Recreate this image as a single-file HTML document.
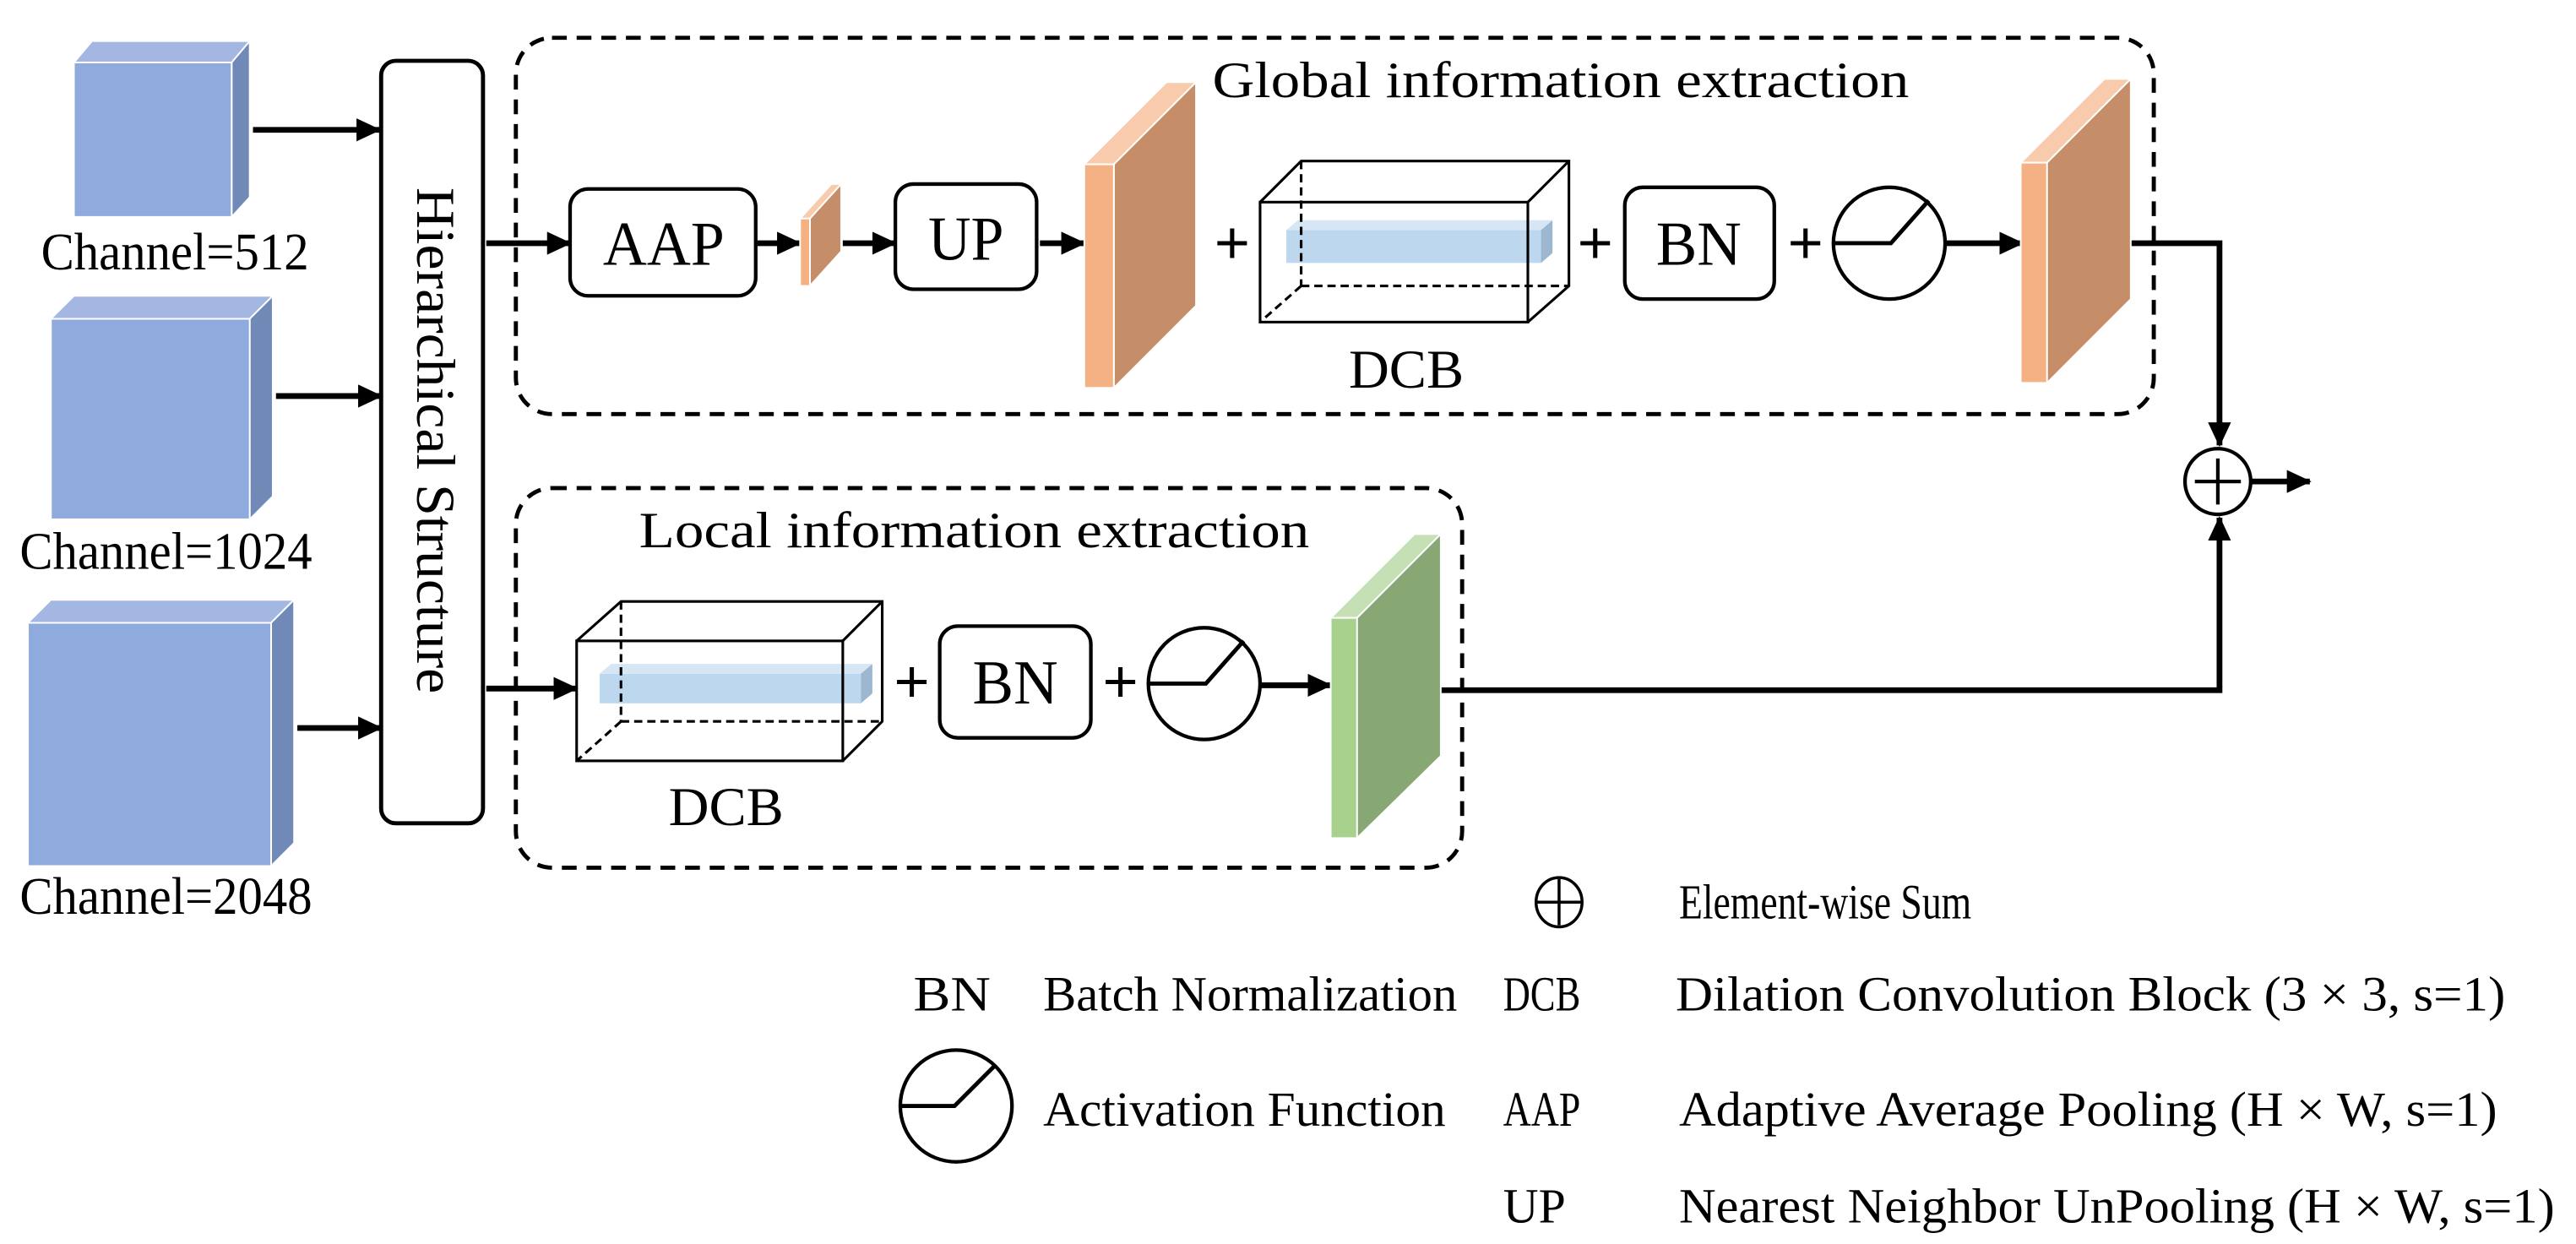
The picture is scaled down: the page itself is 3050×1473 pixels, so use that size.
<!DOCTYPE html>
<html><head><meta charset="utf-8"><style>
html,body{margin:0;padding:0;background:#fff;}
svg{display:block;}
text{font-family:"Liberation Serif","Times New Roman","DejaVu Serif",serif;fill:#000;}
</style></head><body>
<svg width="3050" height="1473" viewBox="0 0 1568 757" preserveAspectRatio="none" xmlns="http://www.w3.org/2000/svg">
<defs>
<marker id="ah" markerUnits="userSpaceOnUse" markerWidth="16" markerHeight="16" refX="14" refY="7" orient="auto">
<path d="M0,0 L15,7 L0,14 Z" fill="#000"/>
</marker>
</defs>
<g stroke="#000" stroke-width="3.5" fill="none">
<line x1="154" y1="79" x2="231" y2="79" marker-end="url(#ah)"/>
<line x1="168" y1="241" x2="232" y2="241" marker-end="url(#ah)"/>
<line x1="181" y1="443" x2="232" y2="443" marker-end="url(#ah)"/>
<line x1="296" y1="148" x2="347" y2="148" marker-end="url(#ah)"/>
<line x1="296" y1="419" x2="351" y2="419" marker-end="url(#ah)"/>
<line x1="461" y1="148" x2="487" y2="148" marker-end="url(#ah)"/>
<line x1="513" y1="148" x2="545" y2="148" marker-end="url(#ah)"/>
<line x1="633" y1="148" x2="660" y2="148" marker-end="url(#ah)"/>
<line x1="1184" y1="148" x2="1231" y2="148" marker-end="url(#ah)"/>
<line x1="767" y1="417" x2="810" y2="417" marker-end="url(#ah)"/>
<polyline points="1297,148 1351,148 1351,271" marker-end="url(#ah)"/>
<polyline points="876,420 1351,420 1351,315" marker-end="url(#ah)"/>
<line x1="1370" y1="293" x2="1406" y2="293" marker-end="url(#ah)"/>
</g>
<g stroke="#fff" stroke-width="1">
<polygon points="45,38 56,25 152,25 141,38" fill="#A4B6E2"/>
<polygon points="141,38 152,25 152,120 141,132" fill="#7189B7"/>
<rect x="45" y="38" width="96" height="94" fill="#8FAADC"/>
<polygon points="31,194 45,180 166,180 152,194" fill="#A4B6E2"/>
<polygon points="152,194 166,180 166,302 152,316" fill="#7189B7"/>
<rect x="31" y="194" width="121" height="122" fill="#8FAADC"/>
<polygon points="17,379 31,365 179,365 165,379" fill="#A4B6E2"/>
<polygon points="165,379 179,365 179,513 165,527" fill="#7189B7"/>
<rect x="17" y="379" width="148" height="148" fill="#8FAADC"/>
</g>
<text x="25" y="164" font-size="32" textLength="163" lengthAdjust="spacingAndGlyphs">Channel=512</text>
<text x="12" y="346" font-size="32" textLength="178" lengthAdjust="spacingAndGlyphs">Channel=1024</text>
<text x="12" y="556" font-size="32" textLength="178" lengthAdjust="spacingAndGlyphs">Channel=2048</text>
<rect x="232" y="37" width="62" height="464" rx="9" fill="none" stroke="#000" stroke-width="2.5"/>
<text transform="translate(254,114) rotate(90)" font-size="33" textLength="308" lengthAdjust="spacingAndGlyphs">Hierarchical Structure</text>
<rect x="314" y="23" width="997" height="229" rx="22" fill="none" stroke="#000" stroke-width="2.5" stroke-dasharray="9,6"/>
<rect x="314" y="297" width="576" height="231" rx="22" fill="none" stroke="#000" stroke-width="2.5" stroke-dasharray="9,6"/>
<text x="738" y="59" font-size="31" textLength="424" lengthAdjust="spacingAndGlyphs">Global  information extraction</text>
<text x="389" y="333" font-size="31" textLength="408" lengthAdjust="spacingAndGlyphs">Local  information extraction</text>
<g fill="#fff" stroke="#000" stroke-width="2.2">
<rect x="347" y="115" width="113" height="65" rx="11"/>
<rect x="545" y="112" width="86" height="64" rx="11"/>
<rect x="989" y="114" width="91" height="68" rx="11"/>
<rect x="572" y="381" width="92" height="68" rx="11"/>
</g>
<text x="404" y="161" font-size="38" text-anchor="middle" textLength="74" lengthAdjust="spacingAndGlyphs">AAP</text>
<text x="588" y="158" font-size="38" text-anchor="middle" textLength="46" lengthAdjust="spacingAndGlyphs">UP</text>
<text x="1034" y="161" font-size="38" text-anchor="middle" textLength="52" lengthAdjust="spacingAndGlyphs">BN</text>
<text x="618" y="428" font-size="38" text-anchor="middle" textLength="52" lengthAdjust="spacingAndGlyphs">BN</text>
<g stroke="#fff" stroke-width="1">
<polygon points="487,133 506,112 512,112 493,133" fill="#F8CBAD"/>
<polygon points="493,133 512,112 512,153 493,174" fill="#C58E68"/>
<rect x="487" y="133" width="6" height="41" fill="#F4B183"/>
<polygon points="660,100 710,50 728,50 678,100" fill="#F8CBAD"/>
<polygon points="678,100 728,50 728,186 678,236" fill="#C58E68"/>
<rect x="660" y="100" width="18" height="136" fill="#F4B183"/>
<polygon points="1230,99 1281,48 1297,48 1246,99" fill="#F8CBAD"/>
<polygon points="1246,99 1297,48 1297,182 1246,233" fill="#C58E68"/>
<rect x="1230" y="99" width="16" height="134" fill="#F4B183"/>
<polygon points="810,376 861,325 877,325 826,376" fill="#C5E0B4"/>
<polygon points="826,376 877,325 877,460 826,510" fill="#87A874"/>
<rect x="810" y="376" width="16" height="134" fill="#A9D18E"/>
</g>
<g>
<rect x="783" y="140" width="155" height="20" fill="#BDD7EE"/>
<polygon points="938,140 945,134 945,154 938,160" fill="#9DB7D0"/>
<polygon points="783,140 790,134 945,134 938,140" fill="#D6E6F5"/>
<g fill="none" stroke="#000" stroke-width="1.6">
<rect x="767" y="123" width="163" height="73"/>
<polyline points="767,123 792,98 955,98 955,174 930,196"/>
<line x1="930" y1="123" x2="955" y2="98"/>
<g stroke-dasharray="5,3"><line x1="792" y1="98" x2="792" y2="174"/><line x1="792" y1="174" x2="955" y2="174"/><line x1="792" y1="174" x2="767" y2="196"/></g>
</g>
</g>
<g>
<rect x="365" y="410" width="159" height="18" fill="#BDD7EE"/>
<polygon points="524,410 531,404 531,422 524,428" fill="#9DB7D0"/>
<polygon points="365,410 372,404 531,404 524,410" fill="#D6E6F5"/>
<g fill="none" stroke="#000" stroke-width="1.6">
<rect x="351" y="390" width="162" height="73"/>
<polyline points="351,390 378,366 537,366 537,439 513,463"/>
<line x1="513" y1="390" x2="537" y2="366"/>
<g stroke-dasharray="5,3"><line x1="378" y1="366" x2="378" y2="439"/><line x1="378" y1="439" x2="537" y2="439"/><line x1="378" y1="439" x2="351" y2="463"/></g>
</g>
</g>
<text x="821" y="236" font-size="33" textLength="70" lengthAdjust="spacingAndGlyphs">DCB</text>
<text x="407" y="502" font-size="33" textLength="70" lengthAdjust="spacingAndGlyphs">DCB</text>
<g stroke="#000" stroke-width="2.6" fill="none">
<path d="M741,148 H759 M750,139 V157"/>
<path d="M962,148 H980 M971,139 V157"/>
<path d="M1090,148 H1108 M1099,139 V157"/>
<path d="M546,415 H564 M555,406 V424"/>
<path d="M673,415 H691 M682,406 V424"/>
</g>
<g fill="#fff" stroke="#000" stroke-width="2.2">
<circle cx="1150" cy="148" r="34"/>
<circle cx="733" cy="416" r="34"/>
<circle cx="582" cy="673" r="34"/>
</g>
<g fill="none" stroke="#000" stroke-width="2.5">
<polyline points="1117,148 1151,148 1174,122"/>
<polyline points="700,416 734,416 757,390"/>
<polyline points="548,673 581,673 605,649"/>
</g>
<circle cx="1350" cy="293" r="20" fill="#fff" stroke="#000" stroke-width="2.2"/>
<path d="M1336,293 H1364 M1350,279 V307" stroke="#000" stroke-width="2.2"/>
<ellipse cx="949" cy="549" rx="14" ry="15" fill="none" stroke="#000" stroke-width="1.8"/>
<path d="M935,549 H963 M949,535 V563" stroke="#000" stroke-width="1.8"/>
<g font-size="30">
<text x="1022" y="559" textLength="178" lengthAdjust="spacingAndGlyphs">Element-wise  Sum</text>
<text x="556" y="615" textLength="47" lengthAdjust="spacingAndGlyphs">BN</text>
<text x="635" y="615" textLength="252" lengthAdjust="spacingAndGlyphs">Batch Normalization</text>
<text x="915" y="615" textLength="47" lengthAdjust="spacingAndGlyphs">DCB</text>
<text x="1020" y="615" textLength="505" lengthAdjust="spacingAndGlyphs">Dilation Convolution Block (3 × 3, s=1)</text>
<text x="635" y="685" textLength="245" lengthAdjust="spacingAndGlyphs">Activation  Function</text>
<text x="915" y="685" textLength="47" lengthAdjust="spacingAndGlyphs">AAP</text>
<text x="1022" y="685" textLength="498" lengthAdjust="spacingAndGlyphs">Adaptive Average Pooling (H × W, s=1)</text>
<text x="915" y="744" textLength="38" lengthAdjust="spacingAndGlyphs">UP</text>
<text x="1022" y="744" textLength="533" lengthAdjust="spacingAndGlyphs">Nearest Neighbor UnPooling (H × W, s=1)</text>
</g>
</svg>
</body></html>
